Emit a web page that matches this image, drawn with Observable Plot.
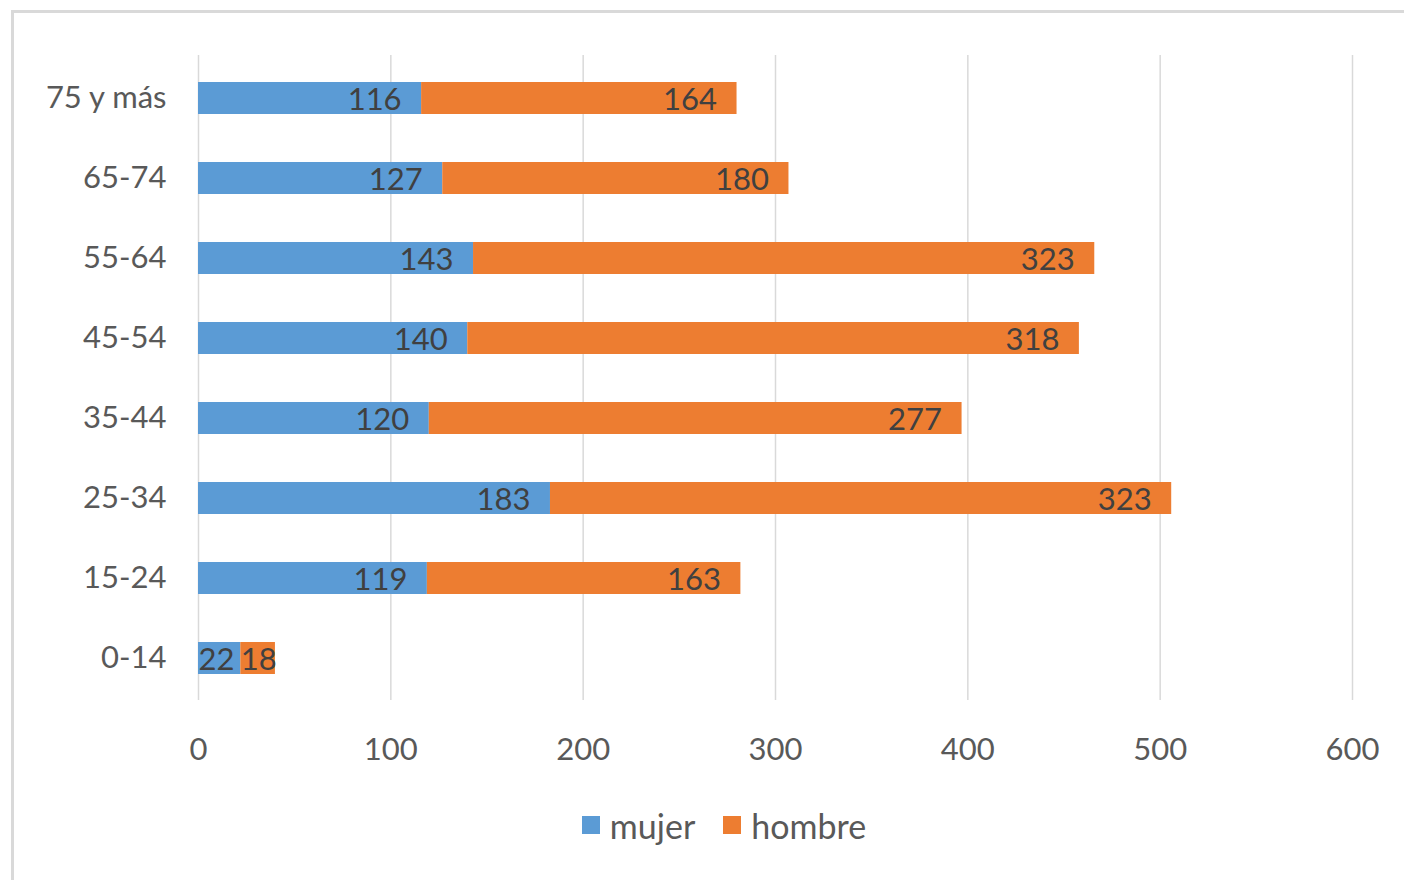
<!DOCTYPE html>
<html>
<head>
<meta charset="utf-8">
<script src="https://cdn.jsdelivr.net/npm/d3@7"></script>
<script src="https://cdn.jsdelivr.net/npm/@observablehq/plot@0.6"></script>
<style>
  html, body { margin: 0; padding: 0; background: #fff; width: 1404px; height: 880px; overflow: hidden; }
  #frame { position: absolute; left: 11px; top: 10px; width: 1420px; height: 900px; border: 3px solid #d9d9d9; box-sizing: border-box; }
  #chart { position: absolute; left: 0; top: 0; }
  #legend { position: absolute; left: 22px; top: 800px; width: 1404px; text-align: center; font-family: Lato, "Open Sans", sans-serif; font-size: 34px; color: #595959; }
  #legend .item { display: inline-flex; align-items: center; margin: 0 14px; }
  #legend .sw { display: inline-block; width: 18px; height: 18px; margin-right: 10px; }
</style>
</head>
<body>
<div id="frame"></div>
<div id="chart"></div>
<div id="legend"></div>
<script>
const groups = ["75 y más", "65-74", "55-64", "45-54", "35-44", "25-34", "15-24", "0-14"];
const mujer  = [116, 127, 143, 140, 120, 183, 119, 22];
const hombre = [164, 180, 323, 318, 277, 323, 163, 18];
const series = ["mujer", "hombre"];
const colors = ["#5B9BD5", "#ED7D31"];
const xTicks = [0, 100, 200, 300, 400, 500, 600];

const data = [];
groups.forEach((g, i) => {
  data.push({group: g, sex: "mujer", value: mujer[i]});
  data.push({group: g, sex: "hombre", value: hombre[i]});
});

const plot = Plot.plot({
  width: 1404,
  height: 770,
  marginLeft: 198,
  marginRight: 52,
  marginTop: 55,
  marginBottom: 70,
  style: {fontFamily: "Lato, 'Open Sans', sans-serif", fontSize: "31px", color: "#595959", background: "transparent"},
  x: {domain: [0, 600], ticks: xTicks, tickSize: 0, tickPadding: 37, label: null},
  y: {domain: groups, paddingInner: 0.6, paddingOuter: 0.3, tickSize: 0, tickPadding: 32, label: null},
  color: {domain: series, range: colors},
  marks: [
    Plot.ruleX(xTicks, {stroke: "#d9d9d9", strokeWidth: 1.5}),
    Plot.barX(data, Plot.stackX({x: "value", y: "group", fill: "sex", order: null})),
    Plot.text(data, Plot.stackX2({x: "value", y: "group", order: null,
      text: d => d.value >= 30 ? String(d.value) : "",
      textAnchor: "end", dx: -20, dy: 2, fill: "#404040"})),
    Plot.text(data, Plot.stackX1({x: "value", y: "group", order: null,
      text: d => d.value < 30 ? String(d.value) : "",
      textAnchor: "start", dx: 0, dy: 2, fill: "#404040"}))
  ]
});
document.getElementById("chart").appendChild(plot);

const legend = document.getElementById("legend");
series.forEach((s, i) => {
  const item = document.createElement("span");
  item.className = "item";
  const sw = document.createElement("span");
  sw.className = "sw";
  sw.style.background = colors[i];
  item.appendChild(sw);
  item.appendChild(document.createTextNode(s));
  legend.appendChild(item);
});
</script>
</body>
</html>
